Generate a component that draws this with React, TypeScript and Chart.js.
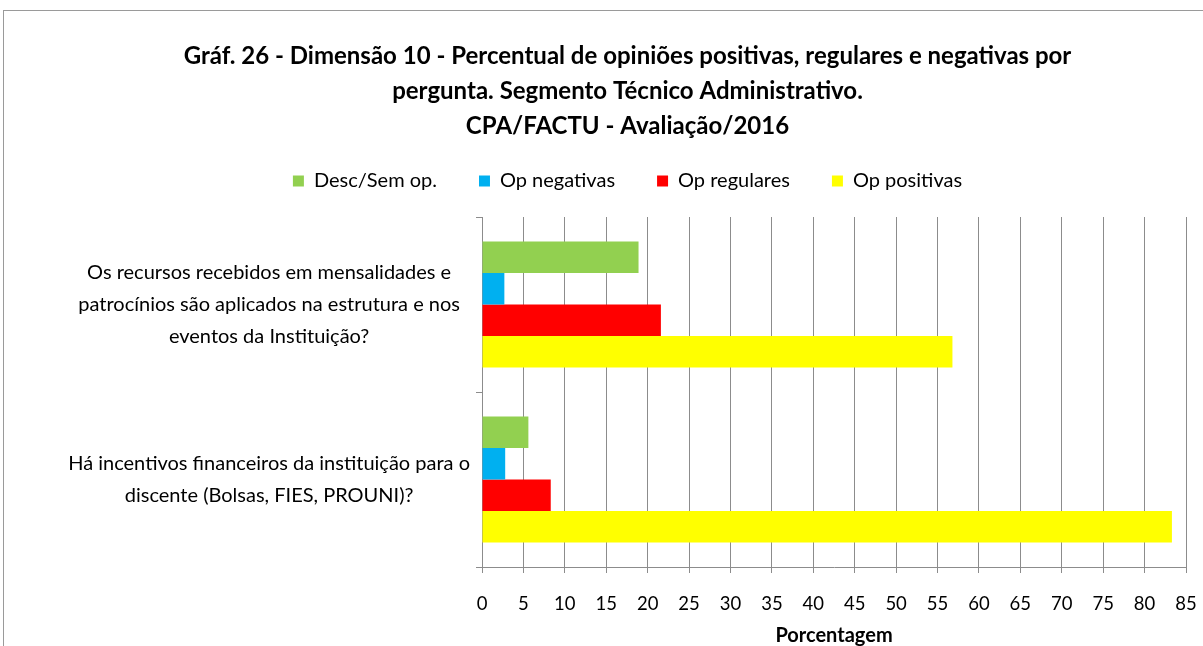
import React, { useEffect, useRef } from 'react';
import { Chart, registerables } from 'chart.js';

Chart.register(...registerables);

const TITLE_LINES = [
  'Gráf. 26 - Dimensão 10 - Percentual de opiniões positivas, regulares e negativas por',
  'pergunta. Segmento Técnico Administrativo.',
  'CPA/FACTU - Avaliação/2016',
];
const CATEGORY_LABELS = [
  ['Os recursos recebidos em mensalidades e', 'patrocínios são aplicados na estrutura e nos', 'eventos da Instituição?'],
  ['Há incentivos financeiros da instituição para o', 'discente (Bolsas, FIES, PROUNI)?'],
];
const SERIES_NAMES = ['Desc/Sem op.', 'Op negativas', 'Op regulares', 'Op positivas'];
const DESC_SEM_OP = [18.9, 5.6];
const OP_NEGATIVAS = [2.7, 2.8];
const OP_REGULARES = [21.6, 8.3];
const OP_POSITIVAS = [56.8, 83.3];
const SERIES_COLORS = ['#92D050', '#00B0F0', '#FF0000', '#FFFF00'];
const X_MIN = 0;
const X_MAX = 85;
const X_STEP = 5;
const X_AXIS_TITLE = 'Porcentagem';

const FONT = 'Lato';
const GRID = '#8c8c8c';

const framePlugin = {
  id: 'frame',
  beforeDraw(chart: any) {
    const ctx = chart.ctx;
    ctx.save();
    ctx.fillStyle = '#ffffff';
    ctx.fillRect(0, 0, chart.width, chart.height);
    ctx.strokeStyle = '#9a9a9a';
    ctx.lineWidth = 1;
    ctx.strokeRect(3.5, 10.5, chart.width + 20, chart.height + 20);
    ctx.restore();
  },
};

export default function App() {
  const ref = useRef<HTMLCanvasElement>(null);

  useEffect(() => {
    if (!ref.current) return;
    const seriesValues = [DESC_SEM_OP, OP_NEGATIVAS, OP_REGULARES, OP_POSITIVAS];
    const chart = new Chart(ref.current, {
      type: 'bar',
      data: {
        labels: CATEGORY_LABELS as any,
        datasets: SERIES_NAMES.map((name, i) => ({
          label: name,
          data: seriesValues[i],
          backgroundColor: SERIES_COLORS[i],
          borderWidth: 0,
          barPercentage: 1,
          categoryPercentage: 0.72,
          xAxisID: 'x',
          yAxisID: 'y',
        })),
      },
      options: {
        indexAxis: 'y',
        animation: false,
        responsive: false,
        events: [],
        layout: { padding: { left: 62, right: 10, top: 0, bottom: 0 } },
        scales: {
          x: {
            type: 'linear',
            position: 'bottom',
            min: X_MIN,
            max: X_MAX,
            ticks: {
              stepSize: X_STEP,
              color: '#000',
              font: { family: FONT, size: 18.5 },
              padding: 20,
              maxRotation: 0,
              autoSkip: false,
            },
            grid: { color: GRID, lineWidth: 1, tickLength: 6, drawTicks: true },
            border: { color: GRID },
            title: {
              display: true,
              text: X_AXIS_TITLE,
              color: '#000',
              font: { family: FONT, size: 20, weight: 'bold' },
              padding: { top: -11.2, bottom: -2 },
            },
            afterFit(s: any) {
              s.paddingRight = 17;
              s.paddingLeft = 0;
            },
          },
          y: {
            type: 'category',
            position: 'left',
            grid: { offset: true, drawOnChartArea: false, tickLength: 6, color: GRID },
            border: { color: GRID },
            ticks: {
              crossAlign: 'center',
              padding: 6,
              color: '#000',
              font: { family: FONT, size: 20, lineHeight: '32px' },
            },
            afterFit(s: any) {
              s.width = 420;
            },
          },
          xTop: {
            type: 'linear',
            position: 'top',
            display: true,
            grid: { display: false },
            border: { display: false },
            ticks: { display: false },
            afterFit(s: any) {
              s.height = 16;
            },
          },
        } as any,
        plugins: {
          title: {
            display: true,
            text: TITLE_LINES,
            color: '#000',
            font: { family: FONT, size: 24, weight: 'bold', lineHeight: '35px' },
            padding: { top: 38.5, bottom: 0.5 },
          },
          legend: {
            position: 'top',
            labels: {
              boxWidth: 11,
              boxHeight: 11,
              padding: 27,
              color: '#000',
              font: { family: FONT, size: 20 },
              generateLabels(c: any) {
                const items = Chart.defaults.plugins.legend.labels.generateLabels(c);
                return items.map((it: any, i: number) => ({
                  ...it,
                  text: i < items.length - 1 ? it.text + '\u2003' : it.text,
                  lineWidth: 0,
                }));
              },
            },
          },
          tooltip: { enabled: false },
        },
      },
      plugins: [framePlugin],
    });
    return () => chart.destroy();
  }, []);

  return (
    <div style={{ position: 'absolute', left: 0, top: 0, width: 1203, height: 646, overflow: 'hidden' }}>
      <canvas ref={ref} width={1203} height={646} style={{ display: 'block' }} />
    </div>
  );
}
